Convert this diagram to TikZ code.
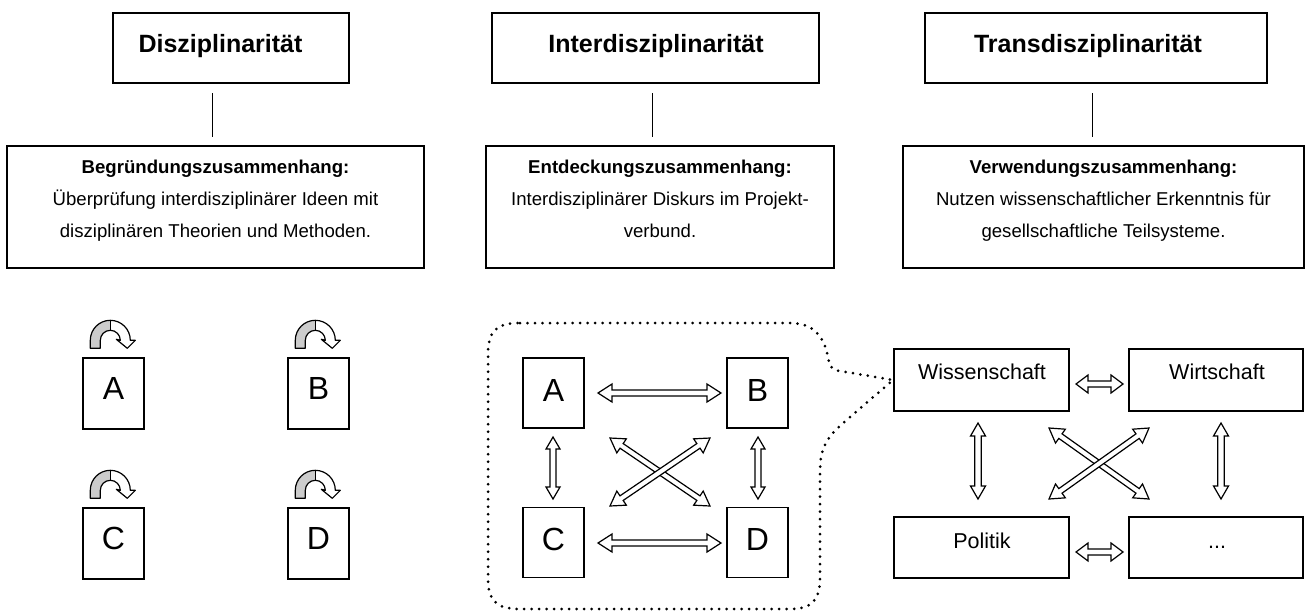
\documentclass[tikz,border=0pt]{standalone}
\usepackage{fontspec}
\setmainfont{Liberation Sans}
\usetikzlibrary{calc}
\tikzset{
  rbox/.style={draw, line width=1.4pt, inner sep=0pt},
  head/.style={anchor=base, inner sep=0pt, font=\fontsize{25}{30}\selectfont\bfseries},
  desc/.style={anchor=base, inner sep=0pt, font=\fontsize{18.6}{22}\selectfont},
  letter/.style={inner sep=0pt, font=\fontsize{32}{36}\selectfont},
  word/.style={anchor=base, inner sep=0pt, font=\fontsize{21.5}{26}\selectfont},
  link/.style={line width=1pt},
  dbl/.style={draw, fill=white, line width=1.2pt, line join=miter},
  callout/.style={line width=3pt, line cap=round, dash pattern=on 0pt off 7.5pt},
  loop/.pic={
    \fill[white] (-20,-8) -- (-20,0) arc[start angle=180,end angle=0,radius=20]
      -- (25,0) -- (17,-8) -- (6,1) -- (10,0) arc[start angle=0,end angle=180,radius=10]
      -- (-10,-8) -- cycle;
    \fill[gray!40] (-20,-8) -- (-20,0) arc[start angle=180,end angle=90,radius=20]
      -- (0,10) arc[start angle=90,end angle=180,radius=10] -- (-10,-8) -- cycle;
    \draw[line width=1.2pt, line join=round] (-20,-8) -- (-20,0) arc[start angle=180,end angle=0,radius=20]
      -- (25,0) -- (17,-8) -- (6,1) -- (10,0) arc[start angle=0,end angle=180,radius=10]
      -- (-10,-8) -- cycle;
    \draw[line width=0.8pt] (0,20) -- (0,10);
  }
}
\newcommand{\dblarrow}[5]{%
  \path ($(#4)!#3!(#5)$) coordinate (da) ($(#5)!#3!(#4)$) coordinate (db);
  \draw[dbl] (#4) -- ($(da)!#2!90:(#5)$) -- ($(da)!#1!90:(#5)$)
    -- ($(db)!#1!-90:(#4)$) -- ($(db)!#2!-90:(#4)$) -- (#5)
    -- ($(db)!#2!90:(#4)$) -- ($(db)!#1!90:(#4)$)
    -- ($(da)!#1!-90:(#5)$) -- ($(da)!#2!-90:(#5)$) -- cycle;}
\begin{document}
\begin{tikzpicture}[x=1pt,y=1pt]
\useasboundingbox (0,0) rectangle (1305,-614);

% top heading boxes
\node[rbox, minimum width=236, minimum height=70] (t1) at (231,-48) {};
\node[rbox, minimum width=327, minimum height=70] (t2) at (655.5,-48) {};
\node[rbox, minimum width=342, minimum height=70] (t3) at (1096,-48) {};
\node[head] (h1) at (220.5,-52) {Disziplinarität};
\node[head] (h2) at (656,-52) {Interdisziplinarität};
\node[head] (h3) at (1088,-52) {Transdisziplinarität};

% description boxes
\node[rbox, minimum width=417, minimum height=122] (d1) at (215.5,-207) {};
\node[rbox, minimum width=348, minimum height=122] (d2) at (660,-207) {};
\node[rbox, minimum width=401, minimum height=122] (d3) at (1103.5,-207) {};

\node[desc] (d1a) at (215.5,-173) {\bfseries Begründungszusammenhang:};
\node[desc] (d1b) at (215.5,-205) {Überprüfung interdisziplinärer Ideen mit};
\node[desc] (d1c) at (215.5,-237) {disziplinären Theorien und Methoden.};
\node[desc] (d2a) at (660,-173) {\bfseries Entdeckungszusammenhang:};
\node[desc] (d2b) at (660,-205) {Interdisziplinärer Diskurs im Projekt-};
\node[desc] (d2c) at (660,-237) {verbund.};
\node[desc] (d3a) at (1103.5,-173) {\bfseries Verwendungszusammenhang:};
\node[desc] (d3b) at (1103.5,-205) {Nutzen wissenschaftlicher Erkenntnis für};
\node[desc] (d3c) at (1103.5,-237) {gesellschaftliche Teilsysteme.};

% vertical links
\coordinate (l1a) at (212,-93);  \coordinate (l1b) at (212,-137);
\coordinate (l2a) at (652,-93);  \coordinate (l2b) at (652,-137);
\coordinate (l3a) at (1092,-93); \coordinate (l3b) at (1092,-137);
\draw[link] (l1a) -- (l1b);
\draw[link] (l2a) -- (l2b);
\draw[link] (l3a) -- (l3b);

% left: disciplines
\foreach \n/\x/\y in {A/113.5/-393.5, B/318.5/-393.5, C/113.5/-543.5, D/318.5/-543.5}{
  \node[rbox, minimum width=61, minimum height=71] (L\n) at (\x,\y) {};
  \node[letter] (Lt\n) at ($(L\n.center)+(0,5)$) {\n};
  \pic at ($(L\n.north west)+(28,17)$) {loop};
}

% middle: callout
\draw[callout] (520,-323) -- (790,-323)
  .. controls (820,-323) and (826,-345) .. (829,-362)
  .. controls (830,-369) and (836,-371) .. (846,-372)
  -- (893,-380)
  -- (842,-424)
  .. controls (824,-440) and (820,-452) .. (820,-472)
  -- (820,-578)
  .. controls (820,-600) and (812,-609) .. (790,-609)
  -- (520,-609)
  .. controls (496,-609) and (488,-600) .. (488,-578)
  -- (488,-355)
  .. controls (488,-331) and (496,-323) .. (520,-323);

\foreach \n/\x/\y in {A/553.5/-393, B/757.5/-393, C/553.5/-542.5, D/757.5/-542.5}{
  \node[rbox, minimum width=61, minimum height=70] (M\n) at (\x,\y) {};
  \node[letter] (Mt\n) at ($(M\n.center)+(0,3)$) {\n};
}
\coordinate (mab1) at (598,-393);  \coordinate (mab2) at (721,-393);
\coordinate (mcd1) at (598,-543);  \coordinate (mcd2) at (721,-543);
\coordinate (mac1) at (553,-437);  \coordinate (mac2) at (553,-499);
\coordinate (mbd1) at (758,-437);  \coordinate (mbd2) at (758,-499);
\coordinate (mx1) at (610,-438);   \coordinate (mx2) at (710,-506);
\coordinate (my1) at (610,-506);   \coordinate (my2) at (710,-438);
\dblarrow{3pt}{9pt}{14pt}{mab1}{mab2}
\dblarrow{3pt}{9pt}{14pt}{mcd1}{mcd2}
\dblarrow{3pt}{7pt}{12pt}{mac1}{mac2}
\dblarrow{3pt}{7pt}{12pt}{mbd1}{mbd2}
\dblarrow{2.8pt}{8.5pt}{14pt}{mx1}{mx2}
\dblarrow{2.8pt}{8.5pt}{14pt}{my1}{my2}

% right: society subsystems
\node[rbox, minimum width=175, minimum height=62] (RW) at (981.5,-380) {};
\node[rbox, minimum width=174, minimum height=62] (RX) at (1216,-380) {};
\node[rbox, minimum width=175, minimum height=61] (RP) at (981.5,-547.5) {};
\node[rbox, minimum width=174, minimum height=61] (RE) at (1216,-547.5) {};
\node[word] (tw) at (982,-379) {Wissenschaft};
\node[word] (tx) at (1217,-379) {Wirtschaft};
\node[word] (tp) at (982,-548) {Politik};
\node[word] (te) at (1217,-548) {...};

\coordinate (rh1) at (1076,-384);  \coordinate (rh2) at (1123,-384);
\coordinate (rk1) at (1076,-552);  \coordinate (rk2) at (1123,-552);
\coordinate (rv1) at (978,-423);   \coordinate (rv2) at (978,-499);
\coordinate (ru1) at (1221,-423);  \coordinate (ru2) at (1221,-499);
\coordinate (rx1) at (1049,-428);  \coordinate (rx2) at (1149,-499);
\coordinate (ry1) at (1049,-499);  \coordinate (ry2) at (1149,-428);
\dblarrow{3pt}{9pt}{12pt}{rh1}{rh2}
\dblarrow{3pt}{9pt}{12pt}{rk1}{rk2}
\dblarrow{3.3pt}{7.5pt}{13pt}{rv1}{rv2}
\dblarrow{3.3pt}{7.5pt}{13pt}{ru1}{ru2}
\dblarrow{2.8pt}{8.5pt}{14pt}{rx1}{rx2}
\dblarrow{2.8pt}{8.5pt}{14pt}{ry1}{ry2}
\end{tikzpicture}
\end{document}
